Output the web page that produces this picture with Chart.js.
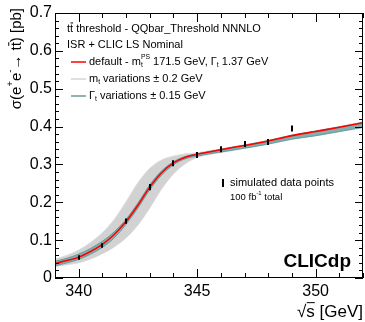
<!DOCTYPE html>
<html><head><meta charset="utf-8">
<script src="https://cdn.jsdelivr.net/npm/chart.js@4"></script>
<style>html,body{margin:0;padding:0;background:#fff;overflow:hidden}</style>
</head><body>
<canvas id="c" width="365" height="322"></canvas>
<script>
// ---- data ----
const energies      = [339, 339.5, 340, 340.5, 341, 341.5, 342, 342.5, 343, 343.5, 344, 344.5, 345, 345.5, 346, 347, 348, 349, 350, 351, 352];
const defaultXS     = [0.038, 0.046, 0.055, 0.070, 0.089, 0.115, 0.149, 0.192, 0.240, 0.278, 0.304, 0.319, 0.327, 0.333, 0.339, 0.350, 0.362, 0.376, 0.387, 0.398, 0.410];
const mtBandUpper   = [0.050, 0.060, 0.074, 0.094, 0.120, 0.155, 0.202, 0.252, 0.290, 0.312, 0.322, 0.328, 0.331, 0.336, 0.341, 0.352, 0.364, 0.378, 0.389, 0.400, 0.412];
const mtBandLower   = [0.030, 0.035, 0.040, 0.050, 0.064, 0.082, 0.106, 0.140, 0.185, 0.235, 0.275, 0.302, 0.318, 0.326, 0.331, 0.342, 0.353, 0.366, 0.375, 0.386, 0.397];
const widthBandUpper= [0.044, 0.052, 0.063, 0.078, 0.097, 0.122, 0.155, 0.198, 0.246, 0.283, 0.307, 0.321, 0.328, 0.334, 0.340, 0.351, 0.363, 0.377, 0.388, 0.399, 0.411];
const widthBandLower= [0.032, 0.040, 0.049, 0.063, 0.081, 0.106, 0.142, 0.185, 0.233, 0.272, 0.299, 0.315, 0.322, 0.328, 0.333, 0.343, 0.354, 0.367, 0.376, 0.387, 0.398];
const dataEnergies  = [340, 341, 342, 343, 344, 345, 346, 347, 348, 349];
const dataXS        = [0.054, 0.086, 0.150, 0.240, 0.303, 0.325, 0.340, 0.354, 0.359, 0.395];
const dataErr       = [0.006, 0.006, 0.007, 0.008, 0.008, 0.008, 0.008, 0.008, 0.008, 0.008];
const xMajorTicks   = [340, 345, 350];
const xMinorTicks   = [339, 341, 342, 343, 344, 346, 347, 348, 349, 351, 352];
const yMajorTicks   = [0, 0.1, 0.2, 0.3, 0.4, 0.5, 0.6, 0.7];
const yTickLabels   = ['0', '0.1', '0.2', '0.3', '0.4', '0.5', '0.6', '0.7'];

const FONT = '"Liberation Sans", Arial, Helvetica, sans-serif';
const pts = (ys) => energies.map((x, i) => ({x, y: ys[i]}));

function rich(ctx, x, y, segs, size, measureOnly) {
  let cx = x;
  for (const s of segs) {
    let fs = size, dy = 0;
    if (s.sup) { fs = size * 0.62; dy = -size * 0.42; }
    if (s.sub) { fs = size * 0.62; dy = size * 0.28; }
    ctx.font = (s.bold ? 'bold ' : '') + fs.toFixed(1) + 'px ' + FONT;
    const w = ctx.measureText(s.t).width;
    if (!measureOnly) {
      ctx.fillText(s.t, cx, y + dy);
      if (s.bar) {
        ctx.save(); ctx.lineWidth = 1; ctx.strokeStyle = ctx.fillStyle;
        ctx.beginPath(); ctx.moveTo(cx + 0.5, y - fs * 0.55); ctx.lineTo(cx + w, y - fs * 0.55); ctx.stroke();
        ctx.restore();
      }
    }
    if (!s.noadv) cx += w;
  }
  return cx - x;
}

const decor = {
  id: 'decor',
  afterDatasetsDraw(chart) {
    const ctx = chart.ctx, xs = chart.scales.x, ys = chart.scales.y;
    ctx.save();
    ctx.strokeStyle = '#000'; ctx.lineWidth = 2;
    dataEnergies.forEach((e, i) => {
      const px = Math.round(xs.getPixelForValue(e));
      ctx.beginPath();
      ctx.moveTo(px, ys.getPixelForValue(dataXS[i] - dataErr[i]));
      ctx.lineTo(px, ys.getPixelForValue(dataXS[i] + dataErr[i]));
      ctx.stroke();
    });
    ctx.restore();
  },
  afterDraw(chart) {
    const ctx = chart.ctx, xs = chart.scales.x, ys = chart.scales.y, a = chart.chartArea;
    ctx.save();
    ctx.strokeStyle = '#000'; ctx.lineWidth = 1;
    ctx.strokeRect(a.left + 0.5, a.top + 0.5, a.right - a.left - 1, a.bottom - a.top - 1);
    ctx.beginPath();
    const tickX = (v, len) => {
      const p = Math.round(xs.getPixelForValue(v)) + 0.5;
      ctx.moveTo(p, a.bottom); ctx.lineTo(p, a.bottom - len);
      ctx.moveTo(p, a.top); ctx.lineTo(p, a.top + len);
    };
    const tickY = (v, len) => {
      const p = Math.round(ys.getPixelForValue(v)) + 0.5;
      ctx.moveTo(a.left, p); ctx.lineTo(a.left + len, p);
      ctx.moveTo(a.right, p); ctx.lineTo(a.right - len, p);
    };
    xMajorTicks.forEach(v => tickX(v, 9));
    xMinorTicks.forEach(v => tickX(v, 5));
    yMajorTicks.forEach(v => tickY(v, 8));
    for (let k = 0; k <= 35; k++) { if (k % 5) tickY(k * 0.02, 4); }
    ctx.stroke();

    ctx.fillStyle = '#000';
    ctx.textBaseline = 'middle'; ctx.textAlign = 'left';
    const L = 11;
    rich(ctx, 67, 29, [{t:'t'},{t:'t', bar:true},{t:' threshold - QQbar_Threshold NNNLO'}], L);
    rich(ctx, 67, 45, [{t:'ISR + CLIC LS Nominal'}], L);
    const sample = (y, col, w) => { ctx.save(); ctx.strokeStyle = col; ctx.lineWidth = w; ctx.beginPath(); ctx.moveTo(71, y); ctx.lineTo(86, y); ctx.stroke(); ctx.restore(); };
    sample(62, '#ff0000', 1.5);
    rich(ctx, 89, 62, [{t:'default - m'},{t:'t', sub:true, noadv:true},{t:'PS', sup:true},{t:' 171.5 GeV, Γ'},{t:'t', sub:true},{t:' 1.37 GeV'}], L);
    sample(79, '#d4d4d4', 1.5);
    rich(ctx, 89, 79, [{t:'m'},{t:'t', sub:true},{t:' variations ± 0.2 GeV'}], L);
    sample(96, '#8fb5b5', 2);
    rich(ctx, 89, 96, [{t:'Γ'},{t:'t', sub:true},{t:' variations ± 0.15 GeV'}], L);
    ctx.save(); ctx.strokeStyle = '#000'; ctx.lineWidth = 2;
    ctx.beginPath(); ctx.moveTo(223, 179); ctx.lineTo(223, 187); ctx.stroke(); ctx.restore();
    rich(ctx, 230, 183, [{t:'simulated data points'}], L);
    rich(ctx, 230, 197, [{t:'100 fb'},{t:'-1', sup:true},{t:' total'}], 9.5);
    ctx.font = 'bold 19px ' + FONT; ctx.textAlign = 'right'; ctx.textBaseline = 'alphabetic';
    ctx.fillText('CLICdp', 351, 267);
    ctx.textAlign = 'left'; ctx.textBaseline = 'middle';
    const xt = [{t:'√'},{t:'s', bar:true},{t:' [GeV]'}];
    const wX = rich(ctx, 0, 0, xt, 17, true);
    rich(ctx, 363 - wX, 312, xt, 17);
    const yt = [{t:'σ(e'},{t:'+', sup:true},{t:'e'},{t:'-', sup:true},{t:'→ t'},{t:'t', bar:true},{t:') [pb]'}];
    const wY = rich(ctx, 0, 0, yt, 15, true);
    ctx.translate(17, 8 + wY); ctx.rotate(-Math.PI / 2);
    rich(ctx, 0, 0, yt, 15);
    ctx.restore();
  }
};

new Chart(document.getElementById('c'), {
  type: 'line',
  data: {
    datasets: [
      { label: 'default', data: pts(defaultXS), borderColor: '#ff0000', borderWidth: 1.6, pointRadius: 0, fill: false, order: 0, cubicInterpolationMode: 'monotone' },
      { label: 'width up', data: pts(widthBandUpper), borderColor: '#5f9c9c', borderWidth: 1, pointRadius: 0, fill: '+1', backgroundColor: 'rgba(100,160,160,0.7)', order: 1, cubicInterpolationMode: 'monotone' },
      { label: 'width down', data: pts(widthBandLower), borderColor: '#5f9c9c', borderWidth: 1, pointRadius: 0, fill: false, order: 2, cubicInterpolationMode: 'monotone' },
      { label: 'mt up', data: pts(mtBandUpper), borderColor: '#e0e0e0', borderWidth: 1, pointRadius: 0, fill: '+1', backgroundColor: '#d2d2d2', order: 3, cubicInterpolationMode: 'monotone' },
      { label: 'mt down', data: pts(mtBandLower), borderColor: '#e0e0e0', borderWidth: 1, pointRadius: 0, fill: false, order: 4, cubicInterpolationMode: 'monotone' }
    ]
  },
  options: {
    responsive: false, animation: false, devicePixelRatio: 1,
    layout: { padding: { left: 0, right: 2, top: 13, bottom: 0 } },
    plugins: { legend: { display: false }, tooltip: { enabled: false } },
    scales: {
      x: {
        type: 'linear', min: 339, max: 352,
        grid: { display: false, drawTicks: false }, border: { display: false },
        afterBuildTicks: s => { s.ticks = xMajorTicks.map(v => ({ value: v })); },
        afterFit: s => { s.height = 44; },
        ticks: { padding: 4, color: '#000', font: { family: FONT, size: 16 }, callback: v => String(v), maxRotation: 0, autoSkip: false }
      },
      y: {
        min: 0, max: 0.7,
        grid: { display: false, drawTicks: false }, border: { display: false },
        afterBuildTicks: s => { s.ticks = yMajorTicks.map(v => ({ value: v })); },
        afterFit: s => { s.width = 55; },
        ticks: { padding: 3, color: '#000', font: { family: FONT, size: 16 }, callback: (v) => yTickLabels[yMajorTicks.findIndex(t => Math.abs(t - v) < 1e-6)], autoSkip: false }
      }
    }
  },
  plugins: [decor]
});
</script>
</body></html>
